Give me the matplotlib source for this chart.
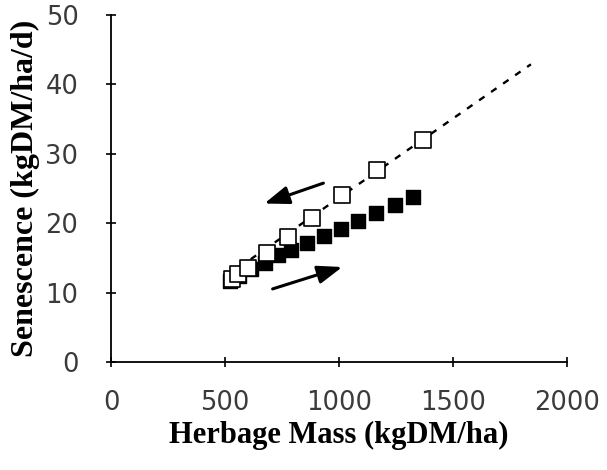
import matplotlib
matplotlib.use("Agg")
import matplotlib.pyplot as plt

# open squares: senescence while herbage mass goes down
open_mass = [530, 555, 602, 683, 778, 883, 1012, 1168, 1367]
open_sen = [12.0, 12.6, 13.5, 15.7, 18.0, 20.7, 24.0, 27.7, 32.0]

# filled squares: senescence while herbage mass goes up
fill_mass = [522, 560, 612, 675, 732, 789, 861, 934, 1007, 1085, 1164, 1244, 1326]
fill_sen = [11.6, 12.4, 13.4, 14.3, 15.4, 16.2, 17.2, 18.1, 19.1, 20.3, 21.4, 22.6, 23.8]

# dashed trend line through the open squares
line_mass = [560, 1842]
line_sen = [13.6, 42.9]

fig = plt.figure(figsize=(6.07, 4.70), dpi=100)
ax = fig.add_axes([0.183, 0.230, 0.751, 0.738])

ax.plot(line_mass, line_sen, color="black", linestyle=(0, (2.8, 3.4)), linewidth=1.7, zorder=1)
ax.scatter(fill_mass, fill_sen, marker="s", s=95, color="black", zorder=2)
ax.scatter(open_mass, open_sen, marker="s", s=140, facecolor="white",
           edgecolor="black", linewidth=1.2, zorder=3)

# direction arrows
ax.annotate("", xy=(661, 22.7), xytext=(943, 25.9),
            arrowprops=dict(arrowstyle="-|>,head_length=1.5,head_width=0.55",
                            color="black", lw=2.2))
ax.annotate("", xy=(1026, 13.8), xytext=(697, 10.4),
            arrowprops=dict(arrowstyle="-|>,head_length=1.5,head_width=0.55",
                            color="black", lw=2.2))

ax.set_xlim(0, 2000)
ax.set_ylim(0, 50)
ax.set_xticks([0, 500, 1000, 1500, 2000])
ax.set_yticks([0, 10, 20, 30, 40, 50])
ax.spines["top"].set_visible(False)
ax.spines["right"].set_visible(False)
ax.spines["left"].set_linewidth(1.3)
ax.spines["bottom"].set_linewidth(1.3)
ax.tick_params(direction="inout", length=7, width=1.2, labelsize=18.5)
ax.tick_params(axis="y", pad=20)
ax.tick_params(axis="x", pad=17)
for lab in ax.get_xticklabels() + ax.get_yticklabels():
    lab.set_fontfamily("DejaVu Sans")
    lab.set_color("#3a3a3a")

ax.set_xlabel("Herbage Mass (kgDM/ha)", family="Liberation Serif", fontweight="bold",
              fontsize=22, labelpad=3)
ax.set_ylabel("Senescence (kgDM/ha/d)", family="Liberation Serif", fontweight="bold",
              fontsize=23, labelpad=4)

fig.savefig("out.png", dpi=100)
